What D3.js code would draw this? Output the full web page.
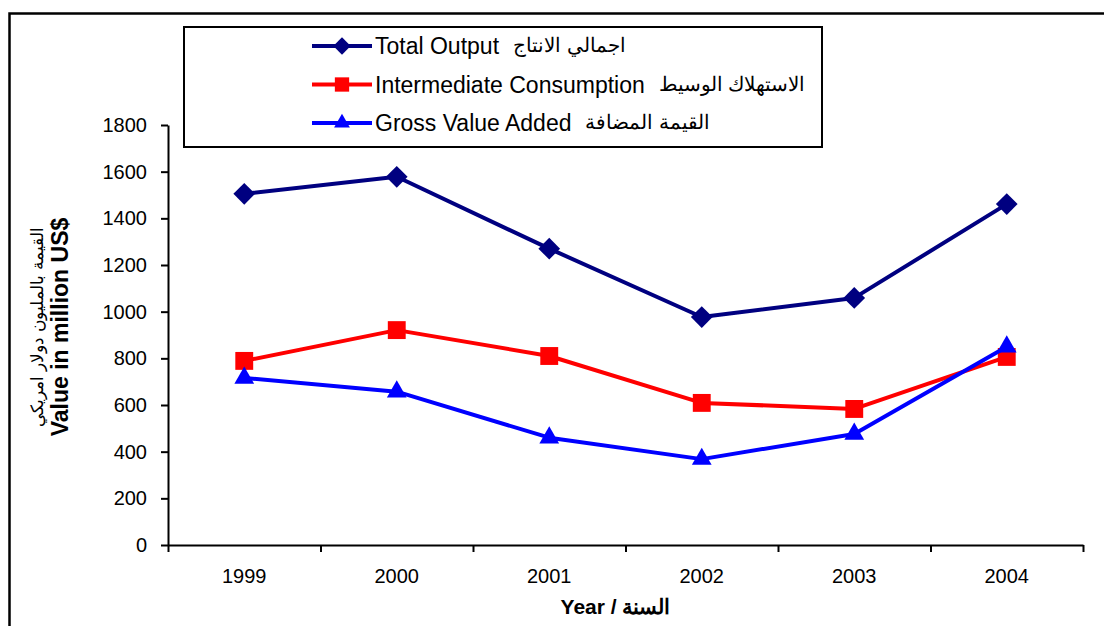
<!DOCTYPE html>
<html>
<head>
<meta charset="utf-8">
<script src="https://cdn.jsdelivr.net/npm/d3@7"></script>
<style>
    body { margin: 0; background: #fff; }
    svg { font-family: Arial, "Liberation Sans", sans-serif; }
    .axis path, .axis line { stroke: #000; stroke-width: 2; }
    .axis text { font-size: 20px; fill: #000; font-family: Arial, "Liberation Sans", sans-serif; }
</style>
</head>
<body>
<div id="canvas"></div>
<script>
"use strict"

// ---------------- DATA ----------------
let years = ["1999", "2000", "2001", "2002", "2003", "2004"]
let totalOutput = [1505, 1578, 1270, 977, 1059, 1461]
let intermediateConsumption = [789, 921, 810, 609, 583, 806]
let grossValueAdded = [716, 657, 460, 368, 476, 850]
let yTicks = [0, 200, 400, 600, 800, 1000, 1200, 1400, 1600, 1800]

let seriesNames = ["Total Output", "Intermediate Consumption", "Gross Value Added"]
let seriesNamesAr = ["اجمالي الانتاج", "الاستهلاك الوسيط", "القيمة المضافة"]

let svgWidth = 1104
let svgHeight = 626

let margin = { top: 125, right: 21, bottom: 81, left: 168 }
let width = svgWidth - margin.left - margin.right
let height = svgHeight - margin.top - margin.bottom

let svg = d3.select("#canvas")
    .append("svg")
    .attr("width", svgWidth)
    .attr("height", svgHeight)

// outer frame (runs off the right and bottom edge)
svg.append("rect")
    .attr("x", 9.5)
    .attr("y", 13.5)
    .attr("width", svgWidth + 20)
    .attr("height", svgHeight + 20)
    .attr("fill", "none")
    .attr("stroke", "#000")
    .attr("stroke-width", 2.5)

let viz = svg.append("g")
    .attr("transform", `translate(${margin.left},${margin.top})`)

// ---------------- SCALES ----------------
let xScale = d3.scaleBand()
    .domain(years)
    .range([0, width])

let xEdges = d3.scaleLinear()
    .domain([0, years.length])
    .range([0, width])

let yScale = d3.scaleLinear()
    .domain([0, 1800])
    .range([height, 0])

let series = [
    { name: seriesNames[0], ar: seriesNamesAr[0], values: totalOutput, color: "#000080", shape: "diamond" },
    { name: seriesNames[1], ar: seriesNamesAr[1], values: intermediateConsumption, color: "#ff0000", shape: "square" },
    { name: seriesNames[2], ar: seriesNamesAr[2], values: grossValueAdded, color: "#0000ff", shape: "triangle" }
]

function markerPath(shape, scale) {
    let s = scale || 1
    if (shape === "diamond") return d3.symbol().type(d3.symbolDiamond2).size(300 * s * s)()
    if (shape === "square") return d3.symbol().type(d3.symbolSquare).size(320 * s * s)()
    return d3.symbol().type(d3.symbolTriangle2).size(280 * s * s)()
}

// ---------------- AXES ----------------
viz.append("g")
    .attr("class", "axis")
    .call(d3.axisLeft(yScale).tickValues(yTicks).tickFormat(d3.format("d"))
        .tickSize(7).tickPadding(14).tickSizeOuter(0))

viz.append("g")
    .attr("class", "axis")
    .attr("transform", `translate(0,${height})`)
    .call(d3.axisBottom(xEdges).ticks(years.length).tickFormat("").tickSize(7).tickSizeOuter(0))

viz.append("g")
    .attr("class", "axis")
    .attr("transform", `translate(0,${height})`)
    .call(d3.axisBottom(xScale).tickSize(0).tickPadding(24))
    .call(g => g.select(".domain").remove())

// axis titles
let xTitle = viz.append("text")
    .attr("x", width / 2 - 10)
    .attr("y", height + 69)
    .attr("text-anchor", "middle")
    .attr("font-weight", "bold")
    .attr("font-size", 21)
    .text("Year / ")

xTitle.append("tspan")
    .attr("font-size", 21)
    .text(" السنة")

viz.append("text")
    .attr("transform", "rotate(-90)")
    .attr("x", -height / 2 + 8)
    .attr("y", -100)
    .attr("text-anchor", "middle")
    .attr("font-weight", "bold")
    .attr("font-size", 23)
    .text("Value in  million US$")

viz.append("text")
    .attr("transform", "rotate(-90)")
    .attr("x", -height / 2 + 8)
    .attr("y", -125)
    .attr("text-anchor", "middle")
    .attr("font-size", 17)
    .text("القيمة بالمليون دولار امريكي")

// ---------------- LINES ----------------
let line = d3.line()
    .x((d, i) => xScale(years[i]) + xScale.bandwidth() / 2)
    .y(d => yScale(d))

series.forEach(function(s) {
    viz.append("path")
        .datum(s.values)
        .attr("d", line)
        .attr("fill", "none")
        .attr("stroke", s.color)
        .attr("stroke-width", 4)
        .attr("stroke-linejoin", "round")

    viz.selectAll(null)
        .data(s.values)
        .enter()
        .append("path")
        .attr("d", markerPath(s.shape))
        .attr("fill", s.color)
        .attr("transform", (d, i) => `translate(${xScale(years[i]) + xScale.bandwidth() / 2},${yScale(d)})`)
})

// ---------------- LEGEND ----------------
let legend = svg.append("g")

legend.append("rect")
    .attr("x", 184)
    .attr("y", 27)
    .attr("width", 638)
    .attr("height", 120)
    .attr("fill", "#fff")
    .attr("stroke", "#000")
    .attr("stroke-width", 2)

let rows = legend.selectAll("g.row")
    .data(series)
    .enter()
    .append("g")
    .attr("class", "row")
    .attr("transform", (d, i) => `translate(312,${46 + i * 38.5})`)

rows.append("line")
    .attr("x1", 0)
    .attr("x2", 60)
    .attr("stroke", d => d.color)
    .attr("stroke-width", 4)

rows.append("path")
    .attr("d", d => markerPath(d.shape, 0.8))
    .attr("fill", d => d.color)
    .attr("transform", "translate(30,0)")

rows.append("text")
    .attr("class", "en")
    .attr("x", 63)
    .attr("y", 8)
    .attr("font-size", 23)
    .text(d => d.name)

rows.append("text")
    .attr("x", function() {
        let en = d3.select(this.parentNode).select("text.en").node()
        return 63 + en.getComputedTextLength() + 14
    })
    .attr("y", 6)
    .attr("font-size", 20)
    .text(d => d.ar)
</script>
</body>
</html>
